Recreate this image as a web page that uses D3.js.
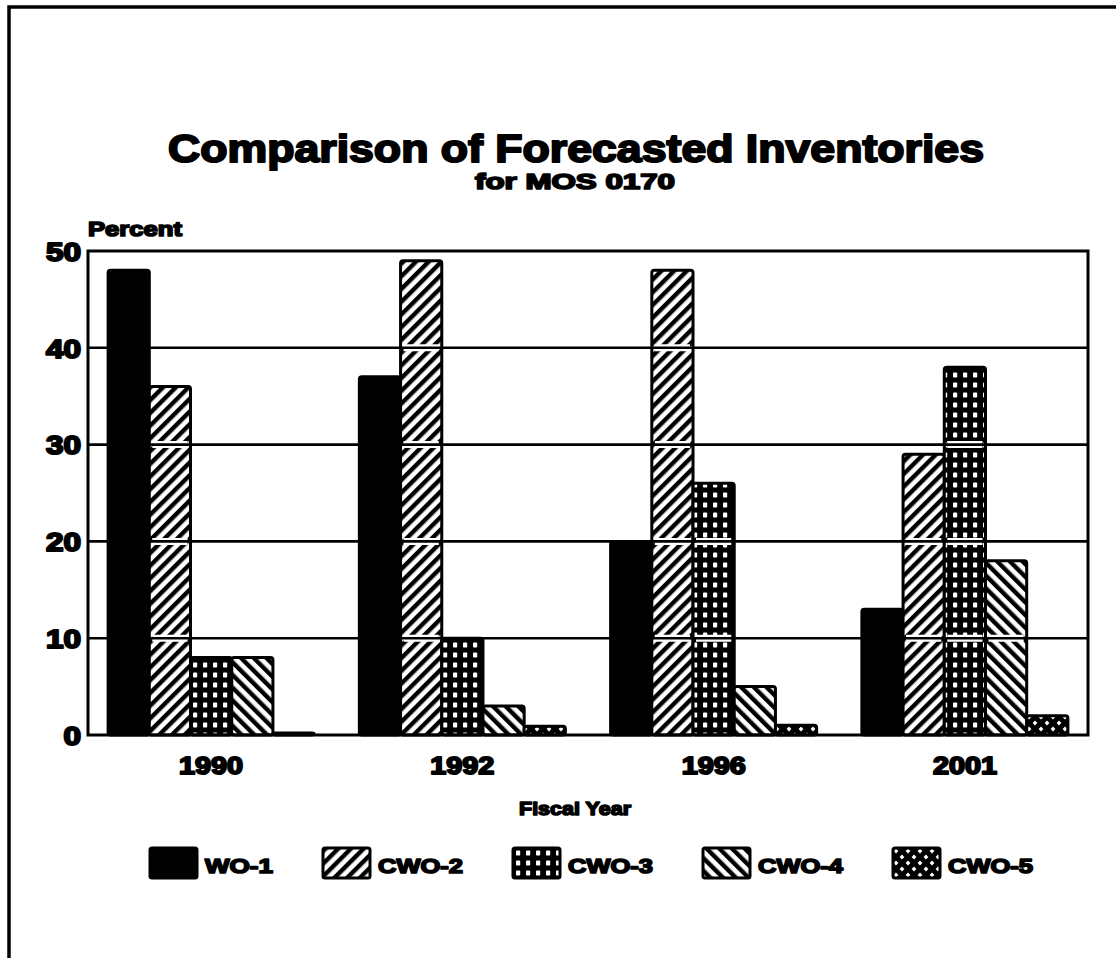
<!DOCTYPE html>
<html>
<head>
<meta charset="utf-8">
<script src="https://cdn.jsdelivr.net/npm/d3@7"></script>
<style>
  html, body { margin: 0; padding: 0; background: #fff; }
  svg { display: block; }
  .heavy { font-family: "Liberation Sans", Arial, sans-serif; font-weight: 700; fill: #000; stroke: #000; stroke-linejoin: round; }
</style>
</head>
<body>
<svg id="chart" width="1116" height="958"></svg>
<script>
// Fiscal years and rank series (percent of MOS 0170 inventory)
const years = ["1990", "1992", "1996", "2001"];
const seriesNames = ["WO-1", "CWO-2", "CWO-3", "CWO-4", "CWO-5"];
const wo1  = [48, 37, 20, 13];
const cwo2 = [36, 49, 48, 29];
const cwo3 = [8, 10, 26, 38];
const cwo4 = [8, 3, 5, 18];
const cwo5 = [0.2, 0.9, 1, 2];
const yTicks = [0, 10, 20, 30, 40, 50];

const seriesValues = [wo1, cwo2, cwo3, cwo4, cwo5];
const fills = ["#000", "url(#pDiagUp)", "url(#pGrid)", "url(#pDiagDown)", "url(#pDiamond)"];

const svg = d3.select("#chart");
const W = 1116, H = 958;
const plot = { left: 88, right: 1088, top: 251, bottom: 735 };

// ---- fill patterns ----
const defs = svg.append("defs");
function stripes(id, angle) {
  const p = defs.append("pattern").attr("id", id)
    .attr("patternUnits", "userSpaceOnUse").attr("width", 9).attr("height", 9)
    .attr("patternTransform", `rotate(${angle})`);
  p.append("rect").attr("width", 9).attr("height", 9).attr("fill", "#fff");
  p.append("rect").attr("x", 0).attr("width", 4.4).attr("height", 9).attr("fill", "#000");
}
stripes("pDiagUp", 45);
stripes("pDiagDown", -45);
{
  const p = defs.append("pattern").attr("id", "pGrid")
    .attr("patternUnits", "userSpaceOnUse").attr("width", 10).attr("height", 10);
  p.append("rect").attr("width", 10).attr("height", 10).attr("fill", "#000");
  p.append("rect").attr("x", 3).attr("y", 2.5).attr("width", 4.2).attr("height", 5).attr("rx", 0.8).attr("fill", "#fff");
}
{
  const p = defs.append("pattern").attr("id", "pDiamond")
    .attr("patternUnits", "userSpaceOnUse").attr("width", 12).attr("height", 12);
  p.append("rect").attr("width", 12).attr("height", 12).attr("fill", "#000");
  p.append("path").attr("d", "M3,0.6 L5.4,3 L3,5.4 L0.6,3 Z M9,6.6 L11.4,9 L9,11.4 L6.6,9 Z").attr("fill", "#fff");
}

// ---- outer frame ----
svg.append("path").attr("d", `M9,${H + 5} L9,7 L${W + 5},7`)
  .attr("fill", "none").attr("stroke", "#000").attr("stroke-width", 3.5);

// ---- titles ----
svg.append("text").attr("class", "heavy").attr("x", 576).attr("y", 162)
  .attr("text-anchor", "middle").attr("font-size", 39).attr("stroke-width", 2)
  .attr("textLength", 816).attr("lengthAdjust", "spacingAndGlyphs")
  .text("Comparison of Forecasted Inventories");
svg.append("text").attr("class", "heavy").attr("x", 575).attr("y", 189)
  .attr("text-anchor", "middle").attr("font-size", 22).attr("stroke-width", 1.7)
  .attr("textLength", 200).attr("lengthAdjust", "spacingAndGlyphs")
  .text("for MOS 0170");

// ---- scales ----
const y = d3.scaleLinear().domain([0, 50]).range([plot.bottom, plot.top]);
const x0 = d3.scaleBand().domain(years).range([plot.left, plot.right])
  .paddingInner(0.18).paddingOuter(0.08);
const x1 = d3.scaleBand().domain(seriesNames).range([0, x0.bandwidth()]);

// ---- bars ----
const barData = [];
years.forEach((yr, i) => {
  seriesNames.forEach((s, j) => {
    barData.push({ year: yr, series: s, value: seriesValues[j][i], fill: fills[j], solid: j === 0 });
  });
});

const bars = svg.append("g");
bars.selectAll("rect").data(barData).join("rect")
  .attr("x", d => x0(d.year) + x1(d.series))
  .attr("y", d => y(d.value))
  .attr("width", x1.bandwidth())
  .attr("height", d => y(0) - y(d.value))
  .attr("rx", 2.5)
  .attr("fill", d => d.fill)
  .attr("stroke", "#000").attr("stroke-width", 3);

// white gaps where gridlines pass through patterned bars
const gaps = [];
barData.filter(d => !d.solid).forEach(d => {
  yTicks.filter(t => t > 0 && t < d.value).forEach(t => gaps.push({ d, t }));
});
svg.append("g").selectAll("line").data(gaps).join("line")
  .attr("x1", g => x0(g.d.year) + x1(g.d.series) + 3)
  .attr("x2", g => x0(g.d.year) + x1(g.d.series) + x1.bandwidth() - 3)
  .attr("y1", g => y(g.t)).attr("y2", g => y(g.t))
  .attr("stroke", "#fff").attr("stroke-width", 7);

// ---- gridlines ----
svg.append("g").selectAll("line").data(yTicks.filter(t => t > 0 && t < 50)).join("line")
  .attr("x1", plot.left).attr("x2", plot.right)
  .attr("y1", d => y(d)).attr("y2", d => y(d))
  .attr("stroke", "#000").attr("stroke-width", 2.6);

// ---- plot frame ----
svg.append("rect")
  .attr("x", plot.left).attr("y", plot.top)
  .attr("width", plot.right - plot.left).attr("height", plot.bottom - plot.top)
  .attr("fill", "none").attr("stroke", "#000").attr("stroke-width", 3);

// ---- axes ----
const yAxis = svg.append("g").attr("transform", `translate(${plot.left - 7},0)`)
  .call(d3.axisLeft(y).tickValues(yTicks).tickSize(0).tickPadding(0).tickFormat(d3.format("d")));
yAxis.select(".domain").remove();
yAxis.selectAll("text")
  .attr("class", "heavy").attr("font-size", 26).attr("stroke-width", 2)
  .attr("dy", "0.36em")
  .attr("textLength", d => String(d).length * 17.5).attr("lengthAdjust", "spacingAndGlyphs");

const xAxis = svg.append("g").attr("transform", `translate(0,${plot.bottom})`)
  .call(d3.axisBottom(x0).tickSize(0).tickPadding(0));
xAxis.select(".domain").remove();
xAxis.selectAll("text")
  .attr("class", "heavy").attr("font-size", 24).attr("stroke-width", 1.9)
  .attr("y", 39).attr("dy", 0)
  .attr("textLength", 64).attr("lengthAdjust", "spacingAndGlyphs");

svg.append("text").attr("class", "heavy").attr("x", plot.left).attr("y", 236)
  .attr("font-size", 21).attr("stroke-width", 1.7)
  .attr("textLength", 94).attr("lengthAdjust", "spacingAndGlyphs")
  .text("Percent");
svg.append("text").attr("class", "heavy").attr("x", 575).attr("y", 815)
  .attr("text-anchor", "middle").attr("font-size", 19).attr("stroke-width", 1.6)
  .attr("textLength", 112).attr("lengthAdjust", "spacingAndGlyphs")
  .text("Fiscal Year");

// ---- legend ----
const legend = svg.append("g").attr("transform", "translate(150,848)");
const swW = 47, swH = 30, gapSwText = 8, gapItem = 50;
let lx = 0;
seriesNames.forEach((s, j) => {
  const g = legend.append("g").attr("transform", `translate(${lx},0)`);
  g.append("rect").attr("width", swW).attr("height", swH).attr("rx", 2)
    .attr("fill", fills[j]).attr("stroke", "#000").attr("stroke-width", 3);
  g.append("text").attr("class", "heavy")
    .attr("x", swW + gapSwText).attr("y", swH - 5)
    .attr("font-size", 21).attr("stroke-width", 1.7)
    .attr("textLength", s.length * 17).attr("lengthAdjust", "spacingAndGlyphs")
    .text(s);
  lx += swW + gapSwText + s.length * 17 + gapItem;
});
</script>
</body>
</html>
